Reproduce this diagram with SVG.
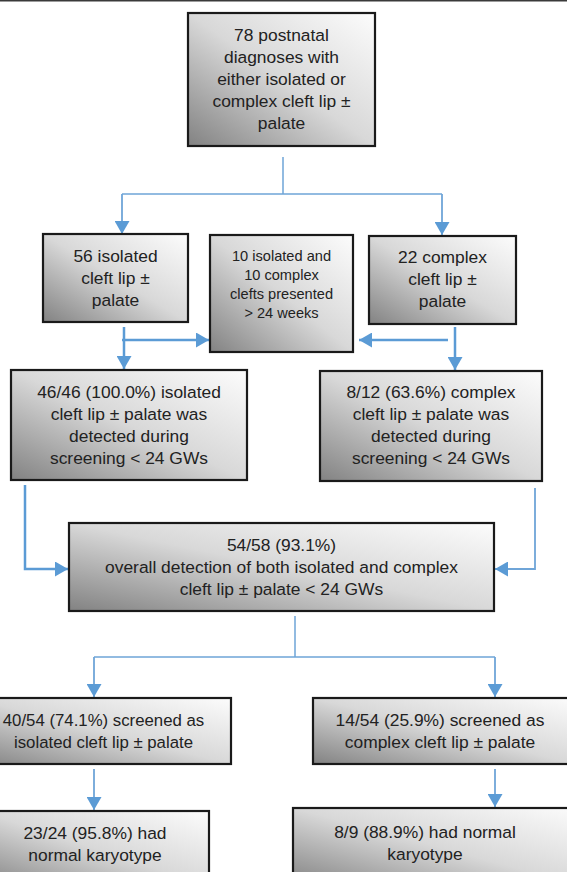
<svg xmlns="http://www.w3.org/2000/svg" width="567" height="872" viewBox="0 0 567 872">
<defs>
<linearGradient id="g" x1="0" y1="1" x2="1" y2="0">
<stop offset="0" stop-color="#828282"/>
<stop offset="0.5" stop-color="#d8d8d8"/>
<stop offset="1" stop-color="#fcfcfc"/>
</linearGradient>
<marker id="ah" markerUnits="userSpaceOnUse" markerWidth="15" markerHeight="15" refX="13" refY="7.5" orient="auto">
<path d="M0,0 L13,7.5 L0,15 z" fill="#5b9bd5"/>
</marker>
<style>
.box{fill:url(#g);stroke:#1a1a1a;stroke-width:2.2}
.t{font-family:"Liberation Sans",Arial,sans-serif;font-size:17.4px;fill:#222;text-anchor:middle}
.s{font-size:14.6px}
.m{font-size:16.8px}
.ln{fill:none;stroke:#6fa5d8;stroke-width:1.5}
.ar{fill:none;stroke:#5b9bd5;stroke-width:2.5;marker-end:url(#ah)}
.ar2{fill:none;stroke:#6fa5d8;stroke-width:1.8;marker-end:url(#ah)}
</style>
</defs>
<rect x="0" y="0" width="567" height="1.5" fill="#3a3a3a"/>
<g id="connectors">
<path class="ln" d="M283,157 V194 M122,194 H442"/>
<path class="ar2" d="M122,194 V234"/>
<path class="ar2" d="M442,194 V235"/>
<path class="ar" d="M124,327 V369"/>
<path class="ar" d="M122,340 H209"/>
<path class="ar" d="M455,327 V370"/>
<path class="ar" d="M448,340 H359"/>
<path class="ar" d="M25,485 V569 H68"/>
<path class="ar2" d="M535,488 V569 H495"/>
<path class="ln" d="M295,616 V657 M94,657 H495"/>
<path class="ar2" d="M94,657 V697"/>
<path class="ar2" d="M495,657 V697"/>
<path class="ar2" d="M94,769 V810"/>
<path class="ar2" d="M495,769 V807"/>
</g>
<g id="n-top">
<rect class="box" x="188" y="13" width="187" height="133"/>
<text class="t" x="281.5" y="41">78 postnatal</text>
<text class="t" x="281.5" y="63">diagnoses with</text>
<text class="t" x="281.5" y="85">either isolated or</text>
<text class="t" x="281.5" y="107">complex cleft lip ±</text>
<text class="t" x="281.5" y="129">palate</text>
</g>
<g id="n-isolated">
<rect class="box" x="43" y="234" width="145" height="88"/>
<text class="t" x="115.5" y="262">56 isolated</text>
<text class="t" x="115.5" y="284">cleft lip ±</text>
<text class="t" x="115.5" y="306">palate</text>
</g>
<g id="n-late">
<rect class="box" x="210" y="235" width="143" height="117"/>
<text class="t s" x="281.5" y="261">10 isolated and</text>
<text class="t s" x="281.5" y="280">10 complex</text>
<text class="t s" x="281.5" y="299">clefts presented</text>
<text class="t s" x="281.5" y="318">&gt; 24 weeks</text>
</g>
<g id="n-complex">
<rect class="box" x="369" y="236" width="147" height="88"/>
<text class="t" x="442.5" y="263">22 complex</text>
<text class="t" x="442.5" y="285">cleft lip ±</text>
<text class="t" x="442.5" y="307">palate</text>
</g>
<g id="n-iso-det">
<rect class="box" x="11" y="370" width="236" height="110"/>
<text class="t" x="129" y="398">46/46 (100.0%) isolated</text>
<text class="t" x="129" y="420">cleft lip ± palate was</text>
<text class="t" x="129" y="442">detected during</text>
<text class="t" x="129" y="464">screening &lt; 24 GWs</text>
</g>
<g id="n-cx-det">
<rect class="box" x="320" y="371" width="222" height="110"/>
<text class="t" x="431" y="398">8/12 (63.6%) complex</text>
<text class="t" x="431" y="420">cleft lip ± palate was</text>
<text class="t" x="431" y="442">detected during</text>
<text class="t" x="431" y="464">screening &lt; 24 GWs</text>
</g>
<g id="n-overall">
<rect class="box" x="69" y="523" width="425" height="88"/>
<text class="t" x="281.5" y="551">54/58 (93.1%)</text>
<text class="t" x="281.5" y="573">overall detection of both isolated and complex</text>
<text class="t" x="281.5" y="595">cleft lip ± palate &lt; 24 GWs</text>
</g>
<g id="n-scr-iso">
<rect class="box" x="-28" y="698" width="259" height="66"/>
<text class="t m" x="103.5" y="726">40/54 (74.1%) screened as</text>
<text class="t m" x="103.5" y="748">isolated cleft lip ± palate</text>
</g>
<g id="n-scr-cx">
<rect class="box" x="313" y="698" width="262" height="66"/>
<text class="t" x="440" y="726">14/54 (25.9%) screened as</text>
<text class="t" x="440" y="748">complex cleft lip ± palate</text>
</g>
<g id="n-kar-iso">
<rect class="box" x="-20" y="811" width="229" height="75"/>
<text class="t" x="95" y="839">23/24 (95.8%) had</text>
<text class="t" x="95" y="861">normal karyotype</text>
</g>
<g id="n-kar-cx">
<rect class="box" x="293" y="808" width="290" height="78"/>
<text class="t" x="425" y="838">8/9 (88.9%) had normal</text>
<text class="t" x="425" y="860">karyotype</text>
</g>
</svg>
